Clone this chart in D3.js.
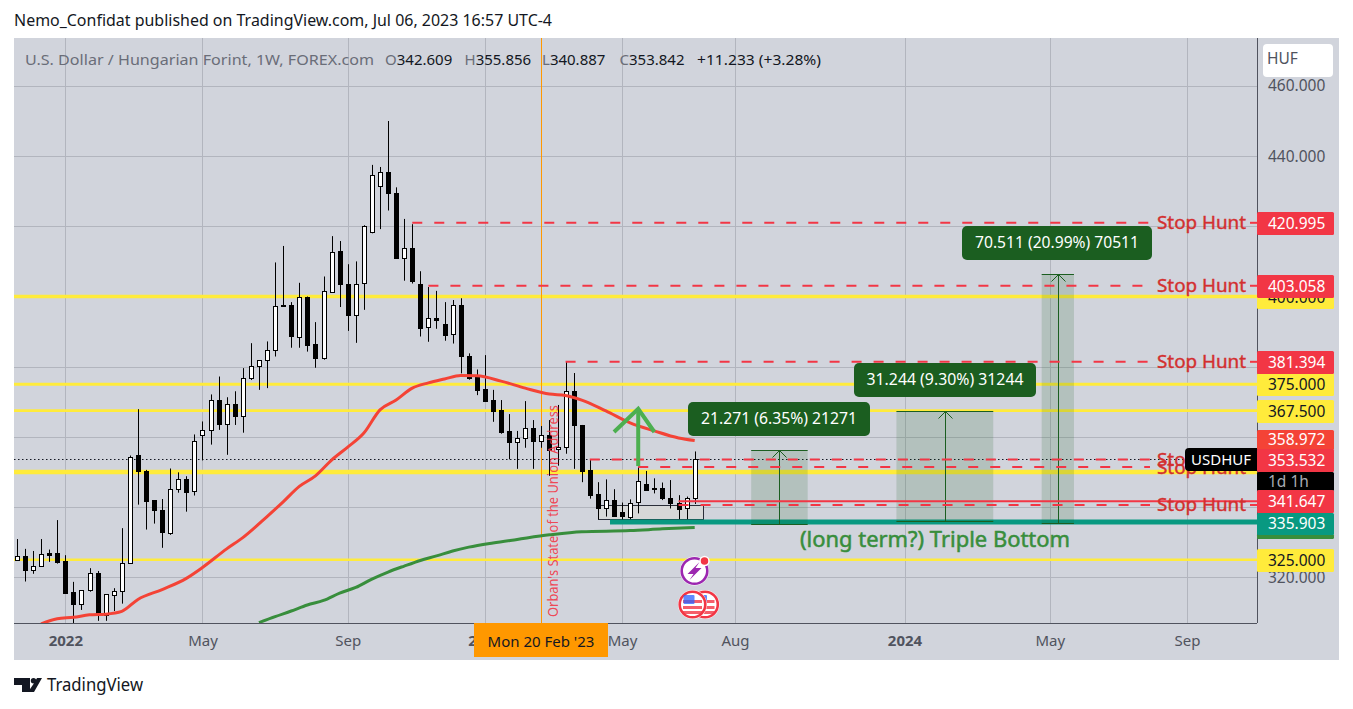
<!DOCTYPE html>
<html>
<head>
<meta charset="utf-8">
<script src="https://d3js.org/d3.v7.min.js"></script>
<style>
  html, body { margin: 0; padding: 0; background: #fff; }
  svg { display: block; font-family: "Noto Sans", sans-serif; }
</style>
</head>
<body>
<svg id="chart" width="1353" height="709"></svg>
<script>
// weekly candles, first one is the week of 22 Nov 2021
const firstWeek = new Date(Date.UTC(2021, 10, 22));
const opens = [325.0,326.0,322.0,323.1,326.9,326.9,324.6,315.7,312.2,316.2,321.2,309.2,315.0,316.0,324.0,354.8,350.3,341.9,339.1,332.7,345.1,348.0,344.5,360.4,361.9,370.4,363.6,369.3,365.8,376.6,380.0,381.8,384.7,397.5,397.5,388.6,400.0,386.4,382.3,401.5,412.9,403.7,394.9,403.7,418.3,431.4,435.4,429.4,410.9,413.7,403.5,391.2,393.8,392.1,389.2,397.5,383.0,377.2,373.6,370.4,367.6,361.6,358.6,359.5,362.4,358.7,360.5,356.5,357.0,373.0,363.4,350.5,343.6,339.6,341.9,338.5,337.4,341.3,346.5,345.3,345.3,342.5,341.2,339.6,342.609];
const highs = [330.9,328.1,327.5,330.9,327.9,336.3,326.3,318.7,316.3,322.6,321.8,315.1,316.9,334.0,354.7,367.9,350.6,341.9,342.3,351.0,349.9,348.8,360.7,364.4,372.1,377.2,371.3,373.0,379.6,386.7,381.8,387.2,409.7,414.4,398.4,403.9,400.0,392.7,405.7,417.2,415.8,409.2,410.0,420.3,437.5,436.9,450.0,431.1,422.1,420.6,407.2,402.7,401.6,398.4,399.0,399.5,383.8,379.2,383.3,373.4,370.5,366.5,361.7,370.2,364.8,363.1,364.8,369.1,381.4,378.2,363.4,353.4,347.1,347.9,345.1,341.3,342.2,351.5,350.3,348.2,347.0,347.7,343.4,343.0,355.856];
const lows = [325.0,318.8,321.0,323.1,324.4,323.9,315.6,306.9,310.7,315.9,307.6,307.6,310.4,312.5,324.0,340.7,333.6,335.3,328.4,332.1,344.1,338.7,343.3,353.3,357.8,362.0,354.9,363.4,361.2,376.2,373.4,373.9,382.9,397.1,385.4,385.4,384.3,379.7,382.0,401.5,397.0,390.2,386.8,396.2,418.0,419.2,424.5,410.8,404.5,403.7,388.6,387.1,390.8,387.4,386.6,378.1,376.3,371.9,370.2,364.3,360.9,353.6,350.9,356.9,350.9,356.9,348.9,351.8,355.2,350.9,347.1,342.4,336.5,337.3,337.3,336.3,336.5,338.2,344.6,343.9,342.0,339.6,336.5,336.5,340.887];
const closes = [326.0,321.9,323.1,326.5,326.4,324.4,315.6,312.2,316.3,321.1,309.1,315.1,316.0,324.0,354.2,350.1,341.8,339.0,332.7,345.1,347.9,344.4,358.7,361.9,370.4,363.5,369.3,365.8,376.7,380.1,381.8,384.7,397.2,397.1,388.6,400.0,386.3,382.3,401.5,412.8,403.6,394.8,403.7,420.0,434.5,435.4,429.3,410.8,413.7,404.2,391.1,393.8,393.1,389.1,397.5,382.9,376.8,373.4,370.2,367.4,361.4,358.6,359.6,362.4,358.7,360.4,356.3,357.1,373.0,363.2,350.4,343.5,339.5,341.9,337.4,337.4,341.3,347.3,344.9,345.0,342.5,341.2,339.6,342.5,353.842];

// moving averages, week = weeks since 3 Jan 2022
const redWeeks = [-3,-1,1,3,5,7,9,12,15,17,20,22,25,27,29,31,33,35,37,39,41,43,45,47,49,51,54,57,60,62,64,67,70,73,76,78];
const redValues = [306.7,308.2,308.6,309.3,309.5,310.3,313.7,316.5,319.7,322.8,328.1,331.3,337.3,341.5,345.9,348.9,353.4,357.1,361.1,367.7,370.5,373.9,375.4,376.5,377.5,377.4,375.9,373.9,372.2,371.8,370.5,367.4,364.0,361.7,359.7,358.97];
const greenWeeks = [24,26,28,30,32,34,36,38,40,42,44,46,48,50,53,56,60,64,70,74,78];
const greenValues = [307.1,308.8,310.4,312.1,313.4,315.5,317.1,319.5,321.5,323.2,324.8,326.1,327.5,328.6,329.8,330.8,332.1,333.0,333.3,333.8,334.2];

// drawn levels
const yellowLevels = [400, 375, 367.5, 350, 325];
const yellowWidths = [3.4, 3, 2.6, 4.6, 2.6];
const stopPrices = [420.995, 403.058, 381.394, 353.532, 351.4, 340.6];
const stopWeeks = [43, 45, 62, 65, 71, 76];
const solidLevel = 341.647, solidWeek = 76;
const tealLevel = 335.903, tealWeek = 68;
const lastClose = 353.842;
const rectWeeks = [66, 79], rectPrices = [340.5, 336.5];
const crossWeek = 59;

// long position boxes
const boxStart = [85, 103, 121];
const boxEnd = [92, 115, 125];
const boxLow = [335.1, 335.9, 335.6];
const boxHigh = [356.2, 367.4, 406.4];
const boxText = ["21.271 (6.35%) 21271", "31.244 (9.30%) 31244", "70.511 (20.99%) 70511"];

// axis ticks
const priceTicks = [460, 440, 420, 400, 380, 360, 340, 320];
const timeTicks = [[2022,0,3,"2022"],[2022,4,2,"May"],[2022,8,5,"Sep"],[2023,0,2,"2023"],[2023,4,1,"May"],[2023,7,7,"Aug"],[2024,0,1,"2024"],[2024,4,6,"May"],[2024,8,2,"Sep"]];

const plotLeft = 14, plotRight = 1257, plotTop = 38, plotBottom = 623, panelRight = 1339, panelBottom = 660;
const tvFont = '"Noto Sans", sans-serif';

const svg = d3.select("#chart");
const weekDate = w => d3.utcMonday.offset(new Date(Date.UTC(2022, 0, 3)), w);
const candleDates = d3.utcMonday.range(firstWeek, d3.utcMonday.offset(firstWeek, closes.length));

const x = d3.scaleUtc().domain([weekDate(0), weekDate(78)]).range([65.3, 694.7]);
const y = d3.scaleLinear().domain([400, 320]).range([296.5, 577.3]);
const crisp = v => Math.round(v) + 0.5;

svg.append("rect").attr("x", plotLeft).attr("y", plotTop).attr("width", panelRight - plotLeft).attr("height", panelBottom - plotTop).attr("fill", "#d1d4dc");

svg.append("defs").append("clipPath").attr("id", "plot")
  .append("rect").attr("x", plotLeft).attr("y", plotTop).attr("width", plotRight - plotLeft).attr("height", plotBottom - plotTop);

const plot = svg.append("g").attr("clip-path", "url(#plot)");

// Grid
const gridColor = "#b2b5be";
plot.append("g").selectAll("line").data(priceTicks).join("line")
  .attr("x1", plotLeft).attr("x2", plotRight)
  .attr("y1", d => crisp(y(d))).attr("y2", d => crisp(y(d)))
  .attr("stroke", gridColor);
plot.append("g").selectAll("line").data(timeTicks).join("line")
  .attr("y1", plotTop).attr("y2", plotBottom)
  .attr("x1", d => crisp(x(new Date(Date.UTC(d[0], d[1], d[2])))))
  .attr("x2", d => crisp(x(new Date(Date.UTC(d[0], d[1], d[2])))))
  .attr("stroke", gridColor);

// Yellow levels
plot.append("g").selectAll("line").data(yellowLevels).join("line")
  .attr("x1", plotLeft).attr("x2", plotRight)
  .attr("y1", d => y(d)).attr("y2", d => y(d))
  .attr("stroke", "#ffeb3b")
  .attr("stroke-width", (d, i) => yellowWidths[i]);

// Range rectangle
plot.append("rect")
  .attr("x", crisp(x(weekDate(rectWeeks[0])))).attr("width", Math.round(x(weekDate(rectWeeks[1])) - x(weekDate(rectWeeks[0]))))
  .attr("y", crisp(y(rectPrices[0]))).attr("height", Math.round(y(rectPrices[1]) - y(rectPrices[0])))
  .attr("fill", "#d7d8d8").attr("stroke", "#2a2e39").attr("stroke-width", 1);

// Crosshair + last price
plot.append("line").attr("x1", crisp(x(weekDate(crossWeek)))).attr("x2", crisp(x(weekDate(crossWeek))))
  .attr("y1", plotTop).attr("y2", plotBottom).attr("stroke", "#ff9800");
plot.append("line").attr("x1", plotLeft).attr("x2", plotRight)
  .attr("y1", crisp(y(lastClose))).attr("y2", crisp(y(lastClose)))
  .attr("stroke", "#131722").attr("stroke-dasharray", "1.5 2.5");

// Candles
const candles = plot.append("g").selectAll("g").data(closes).join("g")
  .attr("transform", (d, i) => `translate(${crisp(x(candleDates[i]))},0)`);
candles.append("line")
  .attr("y1", (d, i) => y(highs[i])).attr("y2", (d, i) => y(lows[i]))
  .attr("stroke", "#000").attr("stroke-width", 1);
candles.append("rect")
  .attr("x", -2).attr("width", 4)
  .attr("y", (d, i) => crisp(y(Math.max(opens[i], closes[i]))))
  .attr("height", (d, i) => Math.max(Math.round(Math.abs(y(opens[i]) - y(closes[i]))), 1))
  .attr("fill", (d, i) => closes[i] >= opens[i] ? "#fff" : "#000")
  .attr("stroke", "#000").attr("stroke-width", 1);

// Moving averages
const line = d3.line().x(d => x(weekDate(d[0]))).y(d => y(d[1])).curve(d3.curveMonotoneX);
plot.append("path").attr("d", line(d3.zip(redWeeks, redValues)))
  .attr("fill", "none").attr("stroke", "#f44336").attr("stroke-width", 3);
plot.append("path").attr("d", line(d3.zip(greenWeeks, greenValues)))
  .attr("fill", "none").attr("stroke", "#388e3c").attr("stroke-width", 3);

// Teal support
plot.append("line").attr("x1", x(weekDate(tealWeek)) - 4).attr("x2", plotRight)
  .attr("y1", y(tealLevel) + 0.5).attr("y2", y(tealLevel) + 0.5)
  .attr("stroke", "#089981").attr("stroke-width", 5);

// Long boxes
boxStart.forEach((s, i) => {
  const x0 = x(weekDate(s)), x1 = x(weekDate(boxEnd[i])), xm = crisp((x0 + x1) / 2);
  const yTop = crisp(y(boxHigh[i])), yBot = crisp(y(boxLow[i]));
  const g = plot.append("g");
  g.append("rect").attr("x", x0).attr("width", x1 - x0).attr("y", yTop).attr("height", yBot - yTop)
    .attr("fill", "#1b5e20").attr("fill-opacity", 0.16);
  g.selectAll(".edge").data([yTop, yBot]).join("line").attr("class", "edge")
    .attr("x1", x0).attr("x2", x1).attr("y1", d => d).attr("y2", d => d)
    .attr("stroke", "#1b5e20");
  g.append("line").attr("x1", xm).attr("x2", xm).attr("y1", yBot).attr("y2", yTop).attr("stroke", "#1b5e20");
  g.append("path").attr("d", `M${xm - 7},${yTop + 7}L${xm},${yTop}L${xm + 7},${yTop + 7}`)
    .attr("fill", "none").attr("stroke", "#1b5e20");
});

// Stop hunt lines
const stopRed = "#f23645";
stopPrices.forEach((p, i) => {
  const sx = x(weekDate(stopWeeks[i]));
  plot.append("line").attr("x1", sx).attr("x2", 1150).attr("y1", y(p)).attr("y2", y(p))
    .attr("stroke", stopRed).attr("stroke-width", 2).attr("stroke-dasharray", "10 12");
  plot.append("line").attr("x1", 1250).attr("x2", plotRight).attr("y1", y(p)).attr("y2", y(p))
    .attr("stroke", stopRed).attr("stroke-width", 2);
});
plot.append("line").attr("x1", x(weekDate(solidWeek))).attr("x2", plotRight)
  .attr("y1", y(solidLevel)).attr("y2", y(solidLevel))
  .attr("stroke", stopRed).attr("stroke-width", 2);

// Green arrow
const arrowWeek = 71;
const arrowGreen = "#4caf50";
plot.append("line").attr("x1", x(weekDate(arrowWeek))).attr("x2", x(weekDate(arrowWeek)))
  .attr("y1", y(351.7)).attr("y2", y(368)).attr("stroke", arrowGreen).attr("stroke-width", 4);
plot.append("path")
  .attr("d", d3.line()([[x(weekDate(arrowWeek - 2.7)), y(361.4)], [x(weekDate(arrowWeek)), y(368)], [x(weekDate(arrowWeek + 2.65)), y(361.4)]]))
  .attr("fill", "none").attr("stroke", arrowGreen).attr("stroke-width", 4);

// Texts on the chart
stopPrices.forEach(p => {
  plot.append("text").attr("x", 1157).attr("y", y(p)).attr("dy", "0.35em")
    .attr("textLength", 89).attr("lengthAdjust", "spacingAndGlyphs")
    .attr("font-size", 18.5).attr("fill", "#d32f2f")
    .attr("stroke", "#d32f2f").attr("stroke-width", 0.4).text("Stop Hunt");
});
plot.append("text").attr("transform", "translate(557.5,617) rotate(-90)")
  .attr("textLength", 212).attr("lengthAdjust", "spacingAndGlyphs")
  .attr("font-size", 14).attr("fill", "#f23645").attr("fill-opacity", 0.9)
  .text("Orban's State of the Union Address");
plot.append("text").attr("x", 800).attr("y", 547)
  .attr("textLength", 270).attr("lengthAdjust", "spacingAndGlyphs")
  .attr("font-size", 21).attr("fill", "#388e3c")
  .attr("stroke", "#388e3c").attr("stroke-width", 0.5).text("(long term?) Triple Bottom");

// Box labels
const labelBoxes = [[688, 402, 182, 34], [854, 363, 182, 34], [962, 226, 190, 34]];
const labelWidths = [156, 157, 164];
labelBoxes.forEach((b, i) => {
  plot.append("rect").attr("x", b[0]).attr("y", b[1]).attr("width", b[2]).attr("height", b[3])
    .attr("rx", 5).attr("fill", "#1b5e20");
  plot.append("text").attr("x", b[0] + b[2] / 2).attr("y", b[1] + b[3] / 2).attr("dy", "0.35em")
    .attr("text-anchor", "middle").attr("textLength", labelWidths[i]).attr("lengthAdjust", "spacingAndGlyphs")
    .attr("font-size", 15.5).attr("fill", "#fff").text(boxText[i]);
});

// Event icons
const bolt = plot.append("g").attr("transform", "translate(694.5,571)");
bolt.append("circle").attr("r", 14.5).attr("fill", "#fff");
bolt.append("circle").attr("r", 12.8).attr("fill", "#fff").attr("stroke", "#9c27b0").attr("stroke-width", 2.6);
bolt.append("path").attr("d", "M5,-9L-7,3L-1,3L-5,9L7,-3L1,-3Z").attr("fill", "#9c27b0");
bolt.append("circle").attr("cx", 10).attr("cy", -10).attr("r", 4.5).attr("fill", "#f23645").attr("stroke", "#fff").attr("stroke-width", 1.5);

[705, 692.5].forEach(cx => {
  const f = plot.append("g").attr("transform", `translate(${cx},604.5)`);
  f.append("circle").attr("r", 14.5).attr("fill", "#fff");
  f.append("circle").attr("r", 12.8).attr("fill", "#fff").attr("stroke", "#f23645").attr("stroke-width", 2.6);
  [-3, 3, 8].forEach(dy => {
    f.append("rect").attr("x", -9.5).attr("width", 19).attr("y", dy - 1.5).attr("height", 3).attr("fill", "#f23645").attr("fill-opacity", 0.8);
  });
  f.append("rect").attr("x", -9).attr("y", -9.5).attr("width", 11).attr("height", 9).attr("rx", 1).attr("fill", "#2962ff").attr("fill-opacity", 0.75);
});

// Axes
const yAxis = d3.axisRight(y).tickValues(priceTicks).tickFormat(d3.format(".3f")).tickSize(0).tickPadding(11);
const yG = svg.append("g").attr("transform", `translate(${plotRight},0)`).call(yAxis);
yG.select(".domain").remove();
yG.selectAll("text").attr("font-size", 15.5).attr("font-family", tvFont).attr("fill", "#50535e");

const xAxis = d3.axisBottom(x)
  .tickValues(timeTicks.map(d => new Date(Date.UTC(d[0], d[1], d[2]))))
  .tickFormat((d, i) => timeTicks[i][3]).tickSize(0).tickPadding(12);
const xG = svg.append("g").attr("transform", `translate(0,${plotBottom})`).call(xAxis);
xG.select(".domain").remove();
xG.selectAll("text").attr("font-size", 15).attr("font-family", tvFont).attr("fill", "#50535e")
  .attr("font-weight", (d, i) => /^\d/.test(timeTicks[i][3]) ? 700 : 400);

svg.append("line").attr("x1", plotRight + 0.5).attr("x2", plotRight + 0.5).attr("y1", plotTop).attr("y2", plotBottom).attr("stroke", "#50535e");
svg.append("line").attr("x1", plotLeft).attr("x2", plotRight).attr("y1", plotBottom + 0.5).attr("y2", plotBottom + 0.5).attr("stroke", "#50535e");

// Price tags
const tags = [
  ["420.995", 212, 235, "#f23645", "#fff"],
  ["400.000", 287, 309, "#ffeb3b", "#131722"],
  ["403.058", 275, 298, "#f23645", "#fff"],
  ["375.000", 373, 396, "#ffeb3b", "#131722"],
  ["381.394", 351, 374, "#f23645", "#fff"],
  ["367.500", 400, 423, "#ffeb3b", "#131722"],
  ["358.972", 430, 450, "#f44336", "#fff"],
  ["", 534, 539, "#388e3c", "#fff"],
  ["335.903", 513, 535, "#089981", "#fff"],
  ["1d 1h", 472, 491, "#000", "#a8abb3"],
  ["341.647", 490, 513, "#f23645", "#fff"],
  ["353.532", 449, 472, "#f23645", "#fff"],
  ["325.000", 549, 572, "#ffeb3b", "#131722"]
];
tags.forEach(t => {
  svg.append("rect").attr("x", plotRight).attr("y", t[1]).attr("width", 77).attr("height", t[2] - t[1])
    .attr("rx", 1.5).attr("fill", t[3]);
  if (t[0]) {
    svg.append("text").attr("x", plotRight + 11).attr("y", (t[1] + t[2]) / 2).attr("dy", "0.35em")
      .attr("font-size", 15.5).attr("fill", t[4]).text(t[0]);
  }
});

// Symbol tag
svg.append("path").attr("d", `M${plotRight},448H1189a4,4 0 0 0 -4,4V467a4,4 0 0 0 4,4H${plotRight}Z`).attr("fill", "#000");
svg.append("text").attr("x", 1191).attr("y", 459.5).attr("dy", "0.35em")
  .attr("font-size", 15).attr("fill", "#fff").text("USDHUF");

// Currency button
svg.append("rect").attr("x", 1263).attr("y", 44).attr("width", 70).attr("height", 33).attr("rx", 4).attr("fill", "#fff");
svg.append("text").attr("x", 1267).attr("y", 58.5).attr("dy", "0.35em")
  .attr("font-size", 15.5).attr("fill", "#50535e").text("HUF");

// Crosshair date label
svg.append("rect").attr("x", 474).attr("y", plotBottom).attr("width", 134).attr("height", 34).attr("fill", "#ff9800");
svg.append("text").attr("x", 541).attr("y", 642).attr("dy", "0.35em").attr("text-anchor", "middle")
  .attr("font-size", 15).attr("fill", "#131722").text("Mon 20 Feb '23");

// Header
svg.append("text").attr("x", 14).attr("y", 21).attr("dy", "0.35em")
  .attr("textLength", 538).attr("lengthAdjust", "spacingAndGlyphs")
  .attr("font-size", 15.5).attr("fill", "#131722")
  .text("Nemo_Confidat published on TradingView.com, Jul 06, 2023 16:57 UTC-4");

const legendGrey = "#6a6d78";
svg.append("text").attr("x", 25).attr("y", 60).attr("dy", "0.35em")
  .attr("textLength", 349).attr("lengthAdjust", "spacingAndGlyphs")
  .attr("font-size", 15).attr("fill", legendGrey).text("U.S. Dollar / Hungarian Forint, 1W, FOREX.com");
const ohlcLetters = ["O", "H", "L", "C"];
const ohlcValues = ["342.609", "355.856", "340.887", "353.842"];
const ohlcX = [385, 464.5, 542, 619.5];
ohlcLetters.forEach((l, i) => {
  const t = svg.append("text").attr("x", ohlcX[i]).attr("y", 60).attr("dy", "0.35em").attr("font-size", 15);
  t.append("tspan").attr("fill", legendGrey).text(l);
  t.append("tspan").attr("fill", "#131722").text(ohlcValues[i]);
});
svg.append("text").attr("x", 697).attr("y", 60).attr("dy", "0.35em")
  .attr("textLength", 124).attr("lengthAdjust", "spacingAndGlyphs")
  .attr("font-size", 15).attr("fill", "#131722").text("+11.233 (+3.28%)");

// Footer logo
const logo = svg.append("g").attr("fill", "#131722");
logo.append("path").attr("d", "M14,678H30V692H22V685H14Z");
logo.append("circle").attr("cx", 33.5).attr("cy", 680.7).attr("r", 2.7);
logo.append("path").attr("d", "M34,692H28L33.5,684L37,678H42Z");
svg.append("text").attr("x", 47).attr("y", 685).attr("dy", "0.35em")
  .attr("textLength", 96).attr("lengthAdjust", "spacingAndGlyphs")
  .attr("font-size", 17.5).attr("fill", "#131722").text("TradingView");
</script>
</body>
</html>
